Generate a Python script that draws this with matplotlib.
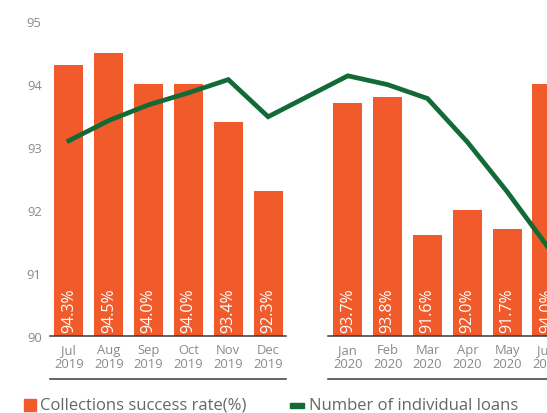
import matplotlib
matplotlib.use('Agg')
import matplotlib.pyplot as plt
import matplotlib.patches as mpatches

plt.rcParams['font.family'] = ['Open Sans', 'DejaVu Sans']

# data
months = ['Jul\n2019', 'Aug\n2019', 'Sep\n2019', 'Oct\n2019', 'Nov\n2019', 'Dec\n2019',
          'Jan\n2020', 'Feb\n2020', 'Mar\n2020', 'Apr\n2020', 'May\n2020', 'Jun\n2020']
success_rate = [94.3, 94.5, 94.0, 94.0, 93.4, 92.3,
                93.7, 93.8, 91.6, 92.0, 91.7, 94.0]
# individual loans line, read against the left scale (its own axis is cut off)
loans_line = [93.10, 93.42, 93.67, 93.86, 94.07, 93.48,
              94.13, 93.99, 93.77, 93.08, 92.29, 91.43]
yticks = [90, 91, 92, 93, 94, 95]

ORANGE = '#f15a2b'
GREEN = '#126b36'
GREY = '#8a8a8a'
DARK = '#3a3a3a'

# one empty slot between the two years
xpos = list(range(6)) + list(range(7, 13))

W, H = 547, 414
fig = plt.figure(figsize=(W / 100, H / 100), dpi=100, facecolor='white')
ax = fig.add_axes([50 / W, (H - 337) / H, 1 - 50 / W, 315 / H])

ax.bar(xpos, success_rate, width=0.73, bottom=0, color=ORANGE, zorder=2)
ax.plot(xpos, loans_line, color=GREEN, linewidth=3.4, zorder=3,
        solid_joinstyle='miter')

for x, v in zip(xpos, success_rate):
    ax.text(x, 90.07, f"{v:.1f}%", rotation=90, ha='center', va='bottom',
            color='white', fontsize=11.5, zorder=4)

ax.set_xlim(-0.475, 11.95)
ax.set_ylim(90, 95)
ax.set_xticks(xpos)
ax.set_xticklabels(months, color=GREY, fontsize=9.4, linespacing=1.15)
ax.set_yticks(yticks)
ax.set_yticklabels([str(t) for t in yticks], color=GREY, fontsize=9.4)
ax.tick_params(axis='both', length=0)
ax.tick_params(axis='x', pad=5)
ax.tick_params(axis='y', pad=6)
for sp in ax.spines.values():
    sp.set_visible(False)

# baseline and year underline, broken per year
y_under = 90 - 43 / 63.0
for x0, x1 in [(-0.475, 5.45), (6.5, 12.6)]:
    ax.plot([x0, x1], [90, 90], color=DARK, linewidth=1.1, clip_on=False, zorder=5)
    ax.plot([x0, x1], [y_under, y_under], color=DARK, linewidth=1.1,
            clip_on=False, zorder=5)

# legend drawn by hand at the bottom
fig.add_artist(mpatches.Rectangle((24 / W, (H - 412) / H), 12 / W, 12 / H,
                                  color=ORANGE, transform=fig.transFigure))
fig.text(40 / W, (H - 406) / H, 'Collections success rate(%)', color='#666666',
         fontsize=12, va='center', ha='left')
fig.add_artist(mpatches.Rectangle((290 / W, (H - 409) / H), 14 / W, 5 / H,
                                  color=GREEN, transform=fig.transFigure))
fig.text(309 / W, (H - 406) / H, 'Number of individual loans', color='#666666',
         fontsize=12, va='center', ha='left')

fig.savefig('out.png', dpi=100, facecolor='white')
